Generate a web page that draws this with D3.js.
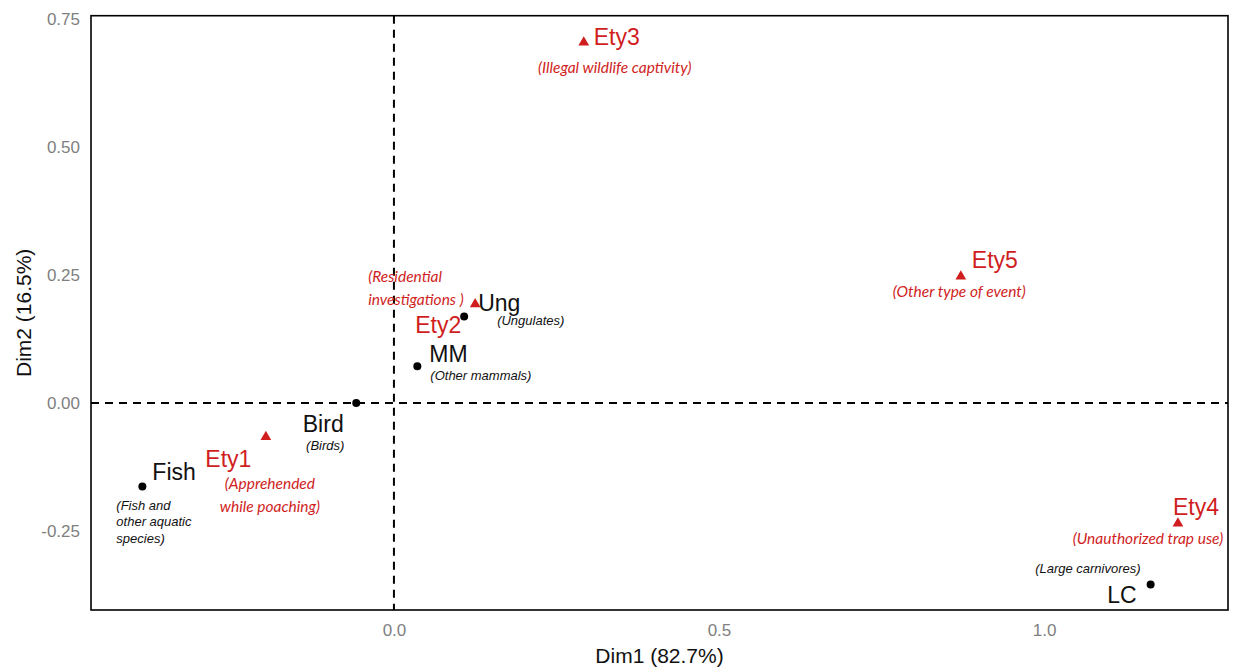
<!DOCTYPE html>
<html>
<head>
<meta charset="utf-8">
<script src="https://cdn.jsdelivr.net/npm/d3@7"></script>
<style>
  html, body { margin: 0; padding: 0; background: #ffffff; }
  svg { display: block; }
</style>
</head>
<body>
<svg id="chart" width="1233" height="669"></svg>
<script>
// Correspondence analysis biplot: species groups (black dots) and event types (red triangles)

const speciesCodes  = ["Fish", "Bird", "MM", "Ung", "LC"];
const speciesNames  = [
  ["(Fish and", "other aquatic", "species)"],
  ["(Birds)"],
  ["(Other mammals)"],
  ["(Ungulates)"],
  ["(Large carnivores)"]
];
const speciesDim1   = [-0.387, -0.058, 0.036, 0.108, 1.164];
const speciesDim2   = [-0.163, 0.000, 0.072, 0.169, -0.354];

const eventCodes    = ["Ety1", "Ety2", "Ety3", "Ety4", "Ety5"];
const eventNames    = [
  ["(Apprehended", "while poaching)"],
  ["(Residential", "investigations )"],
  ["(Illegal wildlife captivity)"],
  ["(Unauthorized trap use)"],
  ["(Other type of event)"]
];
const eventDim1     = [-0.197, 0.125, 0.292, 1.206, 0.872];
const eventDim2     = [-0.066, 0.193, 0.704, -0.235, 0.247];

const xTicks = [0.0, 0.5, 1.0];
const yTicks = [-0.25, 0.00, 0.25, 0.50, 0.75];
const xTitle = "Dim1 (82.7%)";
const yTitle = "Dim2 (16.5%)";

// Label placement (pixel offsets from each mark), kept apart from the data
const speciesLabelLayout = {
  Fish: { code: [10, -7, "start"],  name: [-26, 23, "start"], lh: 16.5 },
  Bird: { code: [-33, 29, "middle"], name: [-31, 47, "middle"], lh: 16 },
  MM:   { code: [12, -4, "start"],  name: [13, 14, "start"], lh: 16 },
  Ung:  { code: [14, -5, "start"],  name: [33, 9, "start"], lh: 16 },
  LC:   { code: [-14, 19, "end"],   name: [-10, -11, "end"], lh: 16 }
};
const eventLabelLayout = {
  Ety1: { code: [-37.5, 30, "middle"], name: [4, 52, "middle"], lh: 23 },
  Ety2: { code: [-37, 29, "middle"],   name: [-107, -22, "start"], lh: 23 },
  Ety3: { code: [10, 3, "start"],      name: [31, 31, "middle"], lh: 23 },
  Ety4: { code: [18, -8, "middle"],    name: [-30, 21, "middle"], lh: 23 },
  Ety5: { code: [11, -8, "start"],     name: [-1.5, 21, "middle"], lh: 23 }
};

const RED = "#d01e1e";
const GREY = "#7f7f7f";

const panel = { left: 91, right: 1228, top: 15.7, bottom: 610 };

const x = d3.scaleLinear().domain([-0.466, 1.283]).range([panel.left, panel.right]);
const y = d3.scaleLinear().domain([-0.404, 0.756]).range([panel.bottom, panel.top]);

const svg = d3.select("#chart");

// Tick labels with a plain hyphen for negatives
const fmtX = d3.formatLocale({ decimal: ".", thousands: ",", grouping: [3], currency: ["", ""], minus: "-" }).format(".1f");
const fmtY = d3.formatLocale({ decimal: ".", thousands: ",", grouping: [3], currency: ["", ""], minus: "-" }).format(".2f");

// Axes: labels only, no tick marks or domain lines
const xAxis = d3.axisBottom(x).tickValues(xTicks).tickFormat(fmtX).tickSize(0).tickPadding(14);
const yAxis = d3.axisLeft(y).tickValues(yTicks).tickFormat(fmtY).tickSize(0).tickPadding(11);

const gx = svg.append("g").attr("transform", `translate(0,${panel.bottom})`).call(xAxis);
const gy = svg.append("g").attr("transform", `translate(${panel.left},0)`).call(yAxis);
[gx, gy].forEach(g => {
  g.select(".domain").remove();
  g.selectAll("text")
    .attr("fill", GREY)
    .style("font-family", "'Liberation Sans', Arial, sans-serif")
    .style("font-size", "17px");
});

// Axis titles
svg.append("text")
  .attr("x", (panel.left + panel.right) / 2)
  .attr("y", 663)
  .attr("text-anchor", "middle")
  .style("font-family", "'Liberation Sans', Arial, sans-serif")
  .style("font-size", "21px")
  .attr("fill", "#111")
  .text(xTitle);

svg.append("text")
  .attr("transform", `translate(31,${(panel.top + panel.bottom) / 2}) rotate(-90)`)
  .attr("text-anchor", "middle")
  .style("font-family", "'Liberation Sans', Arial, sans-serif")
  .style("font-size", "21px")
  .attr("fill", "#111")
  .text(yTitle);

// Reference lines at the origin
svg.append("line")
  .attr("x1", x(0)).attr("x2", x(0))
  .attr("y1", panel.top).attr("y2", panel.bottom)
  .attr("stroke", "#000").attr("stroke-width", 2).attr("stroke-dasharray", "8,6");
svg.append("line")
  .attr("x1", panel.left).attr("x2", panel.right)
  .attr("y1", y(0)).attr("y2", y(0))
  .attr("stroke", "#000").attr("stroke-width", 2).attr("stroke-dasharray", "8,6");

// Panel border
svg.append("rect")
  .attr("x", panel.left).attr("y", panel.top)
  .attr("width", panel.right - panel.left).attr("height", panel.bottom - panel.top)
  .attr("fill", "none").attr("stroke", "#000").attr("stroke-width", 1.6);

const species = speciesCodes.map((c, i) => ({ code: c, name: speciesNames[i], d1: speciesDim1[i], d2: speciesDim2[i] }));
const events  = eventCodes.map((c, i) => ({ code: c, name: eventNames[i], d1: eventDim1[i], d2: eventDim2[i] }));

// Species points
svg.append("g").selectAll("circle")
  .data(species).join("circle")
  .attr("cx", d => x(d.d1)).attr("cy", d => y(d.d2))
  .attr("r", 4).attr("fill", "#000");

// Event points
svg.append("g").selectAll("path")
  .data(events).join("path")
  .attr("transform", d => `translate(${x(d.d1)},${y(d.d2)})`)
  .attr("d", d3.symbol(d3.symbolTriangle, 50))
  .attr("fill", RED);

function drawLabels(data, layout, color, codeFont, nameFont, nameSize) {
  const g = svg.append("g");
  data.forEach(d => {
    const L = layout[d.code];
    const px = x(d.d1), py = y(d.d2);
    g.append("text")
      .attr("x", px + L.code[0]).attr("y", py + L.code[1])
      .attr("text-anchor", L.code[2])
      .style("font-family", codeFont)
      .style("font-size", "23px")
      .attr("fill", color)
      .text(d.code);
    const t = g.append("text")
      .attr("text-anchor", L.name[2])
      .style("font-family", nameFont)
      .style("font-style", "italic")
      .style("font-size", nameSize)
      .attr("fill", color);
    d.name.forEach((line, k) => {
      t.append("tspan")
        .attr("x", px + L.name[0])
        .attr("y", py + L.name[1] + k * L.lh)
        .text(line);
    });
  });
}

drawLabels(species, speciesLabelLayout, "#111",
  "'Liberation Sans', Arial, sans-serif", "'Liberation Sans', Arial, sans-serif", "13px");
drawLabels(events, eventLabelLayout, RED,
  "'Liberation Sans', Arial, sans-serif", "Lato, 'Open Sans', sans-serif", "15.5px");
</script>
</body>
</html>
